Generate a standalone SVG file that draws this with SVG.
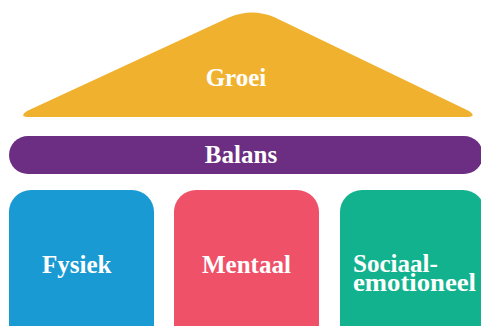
<svg xmlns="http://www.w3.org/2000/svg" width="481" height="326" viewBox="0 0 481 326">
<style>
.t{font-family:"Liberation Serif","DejaVu Serif",serif;font-weight:bold;font-size:25px;fill:#fff}
.c{text-anchor:middle}
</style>
<rect width="481" height="326" fill="#fff"/>
<g id="groei">
<path d="M 30 117 L 465 117 Q 478 117 469 111 L 274 17 Q 252 8 230 17 L 27 111 Q 18 117 30 117 Z" fill="#F0B22E"/>
<text class="t c" x="236" y="86">Groei</text>
</g>
<g id="balans">
<rect x="9" y="136" width="474" height="38" rx="19" fill="#6B2E82"/>
<text class="t c" x="241" y="163">Balans</text>
</g>
<g id="fysiek">
<rect x="9" y="190" width="145" height="160" rx="22" fill="#1A9AD2"/>
<text class="t" x="42" y="273">Fysiek</text>
</g>
<g id="mentaal">
<rect x="174" y="190" width="145" height="160" rx="22" fill="#EE5168"/>
<text class="t" x="202" y="273">Mentaal</text>
</g>
<g id="sociaal">
<rect x="340" y="190" width="145" height="160" rx="22" fill="#13B28E"/>
<text class="t" x="353" y="272">Sociaal-</text>
<text class="t" x="353" y="291" textLength="123" lengthAdjust="spacingAndGlyphs">emotioneel</text>
</g>
<g id="connectors"></g>
</svg>
